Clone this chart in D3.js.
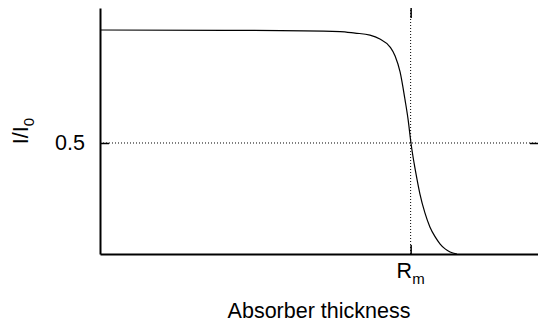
<!DOCTYPE html>
<html>
<head>
<meta charset="utf-8">
<script src="https://cdn.jsdelivr.net/npm/d3@7"></script>
<style>
  body { margin: 0; background: #fff; }
  text { font-family: "Liberation Sans", Arial, sans-serif; fill: #000; }
</style>
</head>
<body>
<div id="chart"></div>
<script>
// transmission curve (thickness in units of Rm)
const thickness = [0, 0.483, 0.773, 0.821, 0.869, 0.901, 0.934, 0.950, 0.966, 0.982, 0.992, 1.001, 1.011, 1.021, 1.030, 1.046, 1.062, 1.079, 1.095, 1.111, 1.127, 1.149];
const intensity = [1.009, 1.007, 1.002, 0.995, 0.986, 0.968, 0.932, 0.892, 0.820, 0.694, 0.604, 0.500, 0.410, 0.333, 0.270, 0.185, 0.122, 0.077, 0.045, 0.023, 0.009, 0.0];
const xTicks = [1];      // Rm
const yTicks = [0.5];

const width = 538, height = 323;
const margin = {top: 8, right: 0, bottom: 69, left: 100};
const fontSize = "21.5px", subSize = "15px";

const svg = d3.select("#chart")
              .append("svg")
              .attr("width", width)
              .attr("height", height);

const x = d3.scaleLinear()
            .domain([0, 1.41])
            .range([margin.left, width - margin.right]);

const y = d3.scaleLinear()
            .domain([0, 1.108])
            .range([height - margin.bottom, margin.top]);

const data = thickness.map((t, i) => ({t: t, v: intensity[i]}));

// dotted guide lines
svg.selectAll(".vgrid")
   .data(xTicks)
   .enter()
   .append("line")
   .attr("x1", d => x(d))
   .attr("x2", d => x(d))
   .attr("y1", y.range()[0])
   .attr("y2", y.range()[1])
   .attr("stroke", "#000")
   .attr("stroke-width", 1)
   .attr("stroke-dasharray", "1,2");

svg.selectAll(".hgrid")
   .data(yTicks)
   .enter()
   .append("line")
   .attr("x1", x.range()[0])
   .attr("x2", x.range()[1])
   .attr("y1", d => y(d))
   .attr("y2", d => y(d))
   .attr("stroke", "#000")
   .attr("stroke-width", 1)
   .attr("stroke-dasharray", "1,2");

// curve
svg.append("path")
   .datum(data)
   .attr("fill", "none")
   .attr("stroke", "#000")
   .attr("stroke-width", 1.2)
   .attr("d", d3.line()
                .x(d => x(d.t))
                .y(d => y(d.v))
                .curve(d3.curveMonotoneX));

// axes, ticks pointing inward
const gx = svg.append("g")
   .attr("transform", `translate(0,${y.range()[0]})`)
   .call(d3.axisBottom(x).tickValues(xTicks).tickSize(-9).tickSizeOuter(0).tickFormat(""));

const gy = svg.append("g")
   .attr("transform", `translate(${x.range()[0]},0)`)
   .call(d3.axisLeft(y).tickValues(yTicks).tickSize(-9).tickSizeOuter(0).tickFormat(""));

const gTop = svg.append("g")
   .attr("transform", `translate(0,${y.range()[1]})`)
   .call(d3.axisTop(x).tickValues(xTicks).tickSize(-10).tickFormat(""));

const gRight = svg.append("g")
   .attr("transform", `translate(${x.range()[1]},0)`)
   .call(d3.axisRight(y).tickValues(yTicks).tickSize(-8).tickFormat(""));

gTop.select(".domain").remove();
gRight.select(".domain").remove();

[gx, gy, gTop, gRight].forEach(g => {
  g.selectAll(".domain").attr("stroke-width", 2);
  g.selectAll(".tick line").attr("stroke-width", 1.5);
});

// tick labels
svg.selectAll(".ylab")
   .data(yTicks)
   .enter()
   .append("text")
   .attr("x", 85)
   .attr("y", d => y(d) + 7.5)
   .attr("text-anchor", "end")
   .style("font-size", fontSize)
   .text(d => d);

const rm = svg.append("text")
   .attr("x", x(xTicks[0]))
   .attr("y", 278)
   .attr("text-anchor", "middle")
   .style("font-size", fontSize);
rm.append("tspan").text("R");
rm.append("tspan").attr("dy", 6).style("font-size", subSize).text("m");

// axis titles
svg.append("text")
   .attr("x", 319)
   .attr("y", 318)
   .attr("text-anchor", "middle")
   .style("font-size", fontSize)
   .text("Absorber thickness");

const yt = svg.append("text")
   .attr("transform", `translate(28,${(y.range()[0] + y.range()[1]) / 2}) rotate(-90)`)
   .attr("text-anchor", "middle")
   .style("font-size", fontSize);
yt.append("tspan").text("I/I");
yt.append("tspan").attr("dy", 6).style("font-size", subSize).text("0");
</script>
</body>
</html>
